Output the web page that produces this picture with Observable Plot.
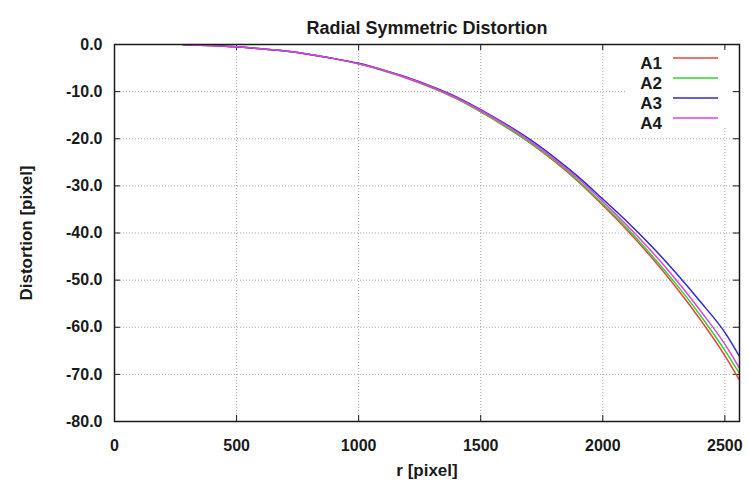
<!DOCTYPE html>
<html><head><meta charset="utf-8">
<script src="https://cdn.jsdelivr.net/npm/d3@7"></script>
<script src="https://cdn.jsdelivr.net/npm/@observablehq/plot@0.6"></script>
<style>body{margin:0;background:#fff;} svg{display:block;}</style>
</head><body><div id="chart"></div>
<script>
const seriesNames = ["A1", "A2", "A3", "A4"];
const seriesColors = ["#e8453c", "#2fd42f", "#2b2bd0", "#e040e0"];
const radius = [280, 300, 400, 500, 600, 700, 800, 900, 1000, 1100, 1200, 1300, 1400, 1500, 1600, 1700, 1800, 1900, 2000, 2100, 2200, 2300, 2400, 2500, 2560];
const a1 = [0, -0.1, -0.2, -0.5, -0.9, -1.4, -2.1, -3.0, -4.1, -5.5, -7.2, -9.2, -11.5, -14.3, -17.4, -20.8, -24.7, -29.1, -34.1, -39.4, -45.2, -51.5, -58.4, -66.0, -71.2];
const a2 = [0, -0.1, -0.2, -0.5, -0.9, -1.4, -2.1, -3.0, -4.1, -5.5, -7.1, -9.1, -11.4, -14.2, -17.3, -20.7, -24.5, -28.9, -33.8, -39.0, -44.7, -50.8, -57.5, -64.9, -69.8];
const a3 = [0, -0.1, -0.2, -0.5, -0.9, -1.4, -2.1, -3.0, -4.0, -5.4, -7.0, -8.9, -11.1, -13.8, -16.8, -20.1, -23.9, -28.1, -32.8, -37.6, -42.8, -48.5, -54.6, -61.1, -66.2];
const a4 = [0, -0.1, -0.2, -0.5, -0.9, -1.4, -2.1, -3.0, -4.1, -5.4, -7.1, -9.0, -11.3, -14.0, -17.0, -20.4, -24.2, -28.5, -33.3, -38.4, -43.9, -49.9, -56.5, -63.6, -68.7];
const xTicks = [0, 500, 1000, 1500, 2000, 2500];
const yTicks = [0, -10, -20, -30, -40, -50, -60, -70, -80];
const title = "Radial Symmetric Distortion";
const xLabel = "r [pixel]";
const yLabel = "Distortion [pixel]";

const rows = [];
[a1, a2, a3, a4].forEach((vals, i) => vals.forEach((v, j) => rows.push({series: seriesNames[i], r: radius[j], d: v})));

const W = 749, H = 489, mL = 114, mR = 10, mT = 44, mB = 68;
const fw = W - mL - mR, fh = H - mT - mB;
const font = "'Liberation Sans', Arial, sans-serif";
const ink = "#1a1a1a";

const chart = Plot.plot({
  width: W, height: H,
  marginLeft: mL, marginRight: mR, marginTop: mT, marginBottom: mB,
  style: {fontFamily: font, background: "#fff", color: ink, overflow: "visible"},
  x: {domain: [0, 2560]},
  y: {domain: [-80, 0]},
  color: {domain: seriesNames, range: seriesColors},
  marks: [
    Plot.gridX(xTicks, {stroke: "#a8a8a8", strokeOpacity: 1, strokeDasharray: "1,2"}),
    Plot.gridY(yTicks, {stroke: "#a8a8a8", strokeOpacity: 1, strokeDasharray: "1,2"}),
    Plot.tickY(yTicks, {y: d => d, insetRight: fw - 6, stroke: ink}),
    Plot.tickY(yTicks, {y: d => d, insetLeft: fw - 6, stroke: ink}),
    Plot.tickX(xTicks, {x: d => d, insetTop: fh - 6, stroke: ink}),
    Plot.tickX(xTicks, {x: d => d, insetBottom: fh - 6, stroke: ink}),
    Plot.line(rows, {x: "r", y: "d", stroke: "series", z: "series", strokeWidth: 1.5, curve: "monotone-x", clip: true}),
    Plot.frame({stroke: ink, strokeWidth: 1.5}),
    Plot.axisX(xTicks, {tickSize: 0, tickPadding: 18, fontSize: 16, fontWeight: "bold", label: null, tickFormat: d => String(d)}),
    Plot.axisY(yTicks, {tickSize: 0, tickPadding: 12, fontSize: 16, fontWeight: "bold", label: null, tickFormat: d => d.toFixed(1)}),
    Plot.text([title], {text: d => d, frameAnchor: "top", dy: -23, fontSize: 18, fontWeight: "bold"}),
    Plot.text([xLabel], {text: d => d, frameAnchor: "bottom", dy: 54, fontSize: 17, fontWeight: "bold", textAnchor: "middle"}),
    Plot.text([yLabel], {text: d => d, frameAnchor: "left", dx: -88, rotate: -90, fontSize: 17, fontWeight: "bold", textAnchor: "middle"})
  ]
});

// Legend (inside the frame, top-right)
const svg = d3.select(chart);
const lg = svg.append("g").attr("font-family", font).attr("font-weight", "bold").attr("font-size", 17);
lg.append("rect").attr("x", 626).attr("y", 50).attr("width", 104).attr("height", 78).attr("fill", "#fff");
seriesNames.forEach((name, i) => {
  const y = 58 + i * 20;
  lg.append("text").attr("x", 662).attr("y", y + 11).attr("text-anchor", "end").attr("fill", ink).text(name);
  lg.append("line").attr("x1", 673).attr("x2", 718).attr("y1", y).attr("y2", y)
    .attr("stroke", seriesColors[i]).attr("stroke-width", 1.5);
});

document.getElementById("chart").appendChild(chart);
</script>
</body></html>
